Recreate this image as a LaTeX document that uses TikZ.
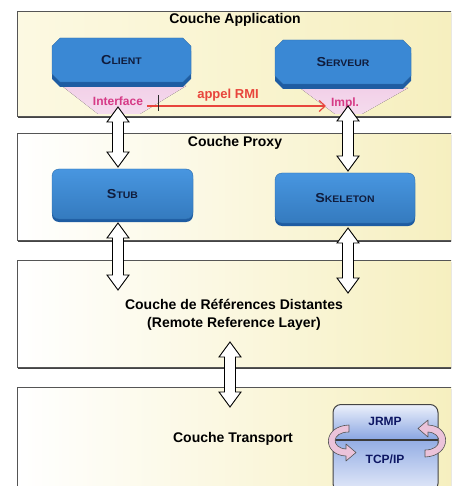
\documentclass[tikz,border=0pt]{standalone}
\usepackage{fontspec}
\setmainfont{Liberation Sans}
\usetikzlibrary{calc,shapes.misc,shadows,arrows.meta}

\definecolor{frame}{HTML}{555555}
\definecolor{ylw}{HTML}{F6EFBE}
\definecolor{ylwlt}{HTML}{FCF9E2}
\definecolor{boxblue}{HTML}{3A88D4}
\definecolor{boxtop}{HTML}{4896E0}
\definecolor{boxdark}{HTML}{1E5CA2}
\definecolor{navy}{HTML}{101C3C}
\definecolor{rmired}{HTML}{E8453C}
\definecolor{magent}{HTML}{D63A86}
\definecolor{fanpink}{HTML}{F2D0E8}
\definecolor{protoblue}{HTML}{8AA6E2}
\definecolor{protolt}{HTML}{E4EAF9}
\definecolor{turnpink}{HTML}{EBC3DA}

% vertical shading of the protocol box: light top, blue around the divider, light bottom
\pgfdeclareverticalshading{protoshade}{100bp}{%
  color(0bp)=(protolt); color(25bp)=(protolt); color(54bp)=(protoblue!90);
  color(55bp)=(protoblue); color(75bp)=(protolt!70!white); color(100bp)=(protolt!70!white)}

% fake small caps for the labels in the blue boxes
\newcommand\smcap[2]{\scalebox{1.1}[1]{{\fontsize{13}{13}\selectfont #1}{\fontsize{9.5}{9.5}\selectfont #2}}}

% white double-headed block arrow between two points on the same vertical
\newcommand\blockarr[2]{%
  \draw[blockarrow] let \p1=(#1), \p2=(#2) in
    (\x1,\y1) -- (\x1+11pt,\y1-15pt) -- (\x1+5.5pt,\y1-15pt) -- (\x1+5.5pt,\y2+15pt)
    -- (\x1+11pt,\y2+15pt) -- (\x1,\y2) -- (\x1-11pt,\y2+15pt) -- (\x1-5.5pt,\y2+15pt)
    -- (\x1-5.5pt,\y1-15pt) -- (\x1-11pt,\y1-15pt) -- cycle;}

\begin{document}
\begin{tikzpicture}[x=1pt,y=-1pt,
  layer/.style={draw=frame, line width=1pt, left color=white, right color=ylw,
    minimum width=442pt, anchor=north west, inner sep=0pt,
    general shadow={fill=frame!80!black, shadow yshift=-1.5pt}},
  title/.style={font=\fontsize{14}{18}\selectfont\bfseries, text=black, inner sep=0pt},
  cbox/.style={chamfered rectangle, chamfered rectangle xsep=6pt, fill=boxblue,
    draw=boxblue!80!black, line width=0.4pt, inner sep=0pt, minimum height=44pt,
    font=\bfseries, text=navy, general shadow={fill=boxdark, shadow yshift=-5pt}},
  rbox/.style={rectangle, rounded corners=7pt, top color=boxtop, bottom color=boxblue!90!black,
    draw=boxblue!80!black, line width=0.4pt, inner sep=0pt, minimum height=50pt,
    font=\bfseries, text=navy, general shadow={fill=boxdark, shadow yshift=-3pt}},
  lbl/.style={font=\fontsize{12}{12}\selectfont\bfseries, text=magent, inner sep=0pt},
  rmilbl/.style={font=\fontsize{13}{13}\selectfont\bfseries, text=rmired, inner sep=0pt},
  rmi/.style={draw=rmired, line width=1.2pt, -{Straight Barb[length=6pt,width=11pt]}},
  blockarrow/.style={draw=black, fill=white, line width=0.9pt, line join=miter},
  fan/.style={top color=fanpink, bottom color=fanpink!75!white},
  proto/.style={rectangle, rounded corners=8pt, shading=protoshade, draw=frame!80!black,
    line width=1pt, inner sep=0pt},
  protolbl/.style={font=\fontsize{12}{12}\selectfont\bfseries, text=navy!80!blue, inner sep=0pt},
  turn/.style={draw=frame, fill=turnpink, line width=0.6pt, line join=round}]

\useasboundingbox (0,0) rectangle (451,486);
\clip (0,0) rectangle (451,486);

% the four layers
\node[layer, minimum height=105pt, left color=ylwlt, right color=ylw] (app) at (17,11) {};
\node[layer, minimum height=107pt] (proxy) at (17,133) {};
\node[layer, minimum height=107pt] (rrl) at (17,260) {};
\node[layer, minimum height=112pt] (trans) at (17,387) {};

\node[title] (tapp) at (235,20) {Couche Application};
\node[title] (tprx) at (235,143) {Couche Proxy};
\node[title, align=center] (trrl) at (234,315) {Couche de Références Distantes\\(Remote Reference Layer)};
\node[title] (ttr) at (233,439) {Couche Transport};

% interface / implementation fans under the application objects
\fill[fan] (62,86) -- (186,86) -- (140,114) -- (98,114) -- cycle;
\fill[fan] (300,88) -- (408,88) -- (362,114) -- (335,114) -- cycle;

% application objects
\node[cbox, minimum width=139pt] (client) at (121.5,60) {\smcap{C}{LIENT}};
\node[cbox, minimum width=136pt] (serveur) at (343,62) {\smcap{S}{ERVEUR}};

% proxy objects
\node[rbox, minimum width=141pt] (stub) at (122.5,194) {\smcap{S}{TUB}};
\node[rbox, minimum width=140pt] (skel) at (345,198) {\smcap{S}{KELETON}};

% remote call
\node[lbl] (iface) at (118,101) {Interface};
\node[lbl] (impl) at (345,103) {Impl.};
\node[rmilbl] (rmitxt) at (228,95) {appel RMI};
\coordinate (rs) at (147,106);
\coordinate (re) at (326,106);
\draw[rmi] (rs) -- (re);
\coordinate (tk1) at (158,95);
\coordinate (tk2) at (158,111);
\draw[frame!50!black, line width=0.8pt] (tk1) -- (tk2);

% block arrows between layers
\coordinate (a1t) at (118,107); \coordinate (a1b) at (118,167);
\coordinate (a2t) at (348,106); \coordinate (a2b) at (348,171);
\coordinate (a3t) at (118,223); \coordinate (a3b) at (118,290);
\coordinate (a4t) at (348,228); \coordinate (a4b) at (348,293);
\coordinate (a5t) at (230,342); \coordinate (a5b) at (230,407);
\blockarr{a1t}{a1b}
\blockarr{a2t}{a2b}
\blockarr{a3t}{a3b}
\blockarr{a4t}{a4b}
\blockarr{a5t}{a5b}

% transport protocols
\node[proto, minimum width=105pt, minimum height=87pt] (protobox) at (385.5,448) {};
\coordinate (ml) at (333,440);
\coordinate (mr) at (438,440);
\draw[frame!70!black, line width=1.4pt] (ml) -- (mr);
\node[protolbl] (jrmp) at (385,421) {JRMP};
\node[protolbl] (tcp) at (385,459) {TCP/IP};

% turn-around arrows on both sides of the protocol box
\draw[turn] (349,425) .. controls (322,426) and (322,455) .. (346,456)
  -- (346,461) -- (356,452.5) -- (346,444) -- (346,449)
  .. controls (331,448) and (331,432) .. (349,432) -- cycle;
\draw[turn] (425,457) .. controls (452,456) and (452,426) .. (428,425)
  -- (428,420) -- (418,428.5) -- (428,437) -- (428,432)
  .. controls (443,433) and (443,450) .. (425,450) -- cycle;

\end{tikzpicture}
\end{document}
